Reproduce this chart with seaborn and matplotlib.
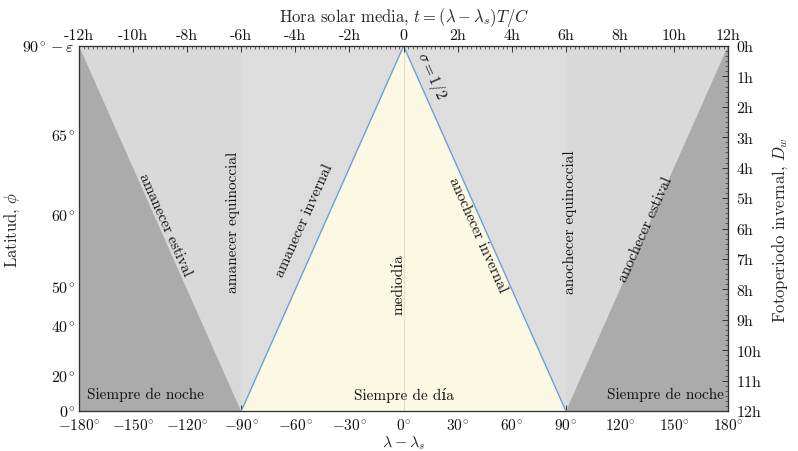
import numpy as np
import pandas as pd
import matplotlib
matplotlib.use('Agg')
import matplotlib.pyplot as plt
from matplotlib.ticker import MultipleLocator
import seaborn as sns

# region outlines (x = lambda - lambda_s in degrees, y = winter photoperiod in hours)
day_x = [-90, 0, 90]
day_y = [12, 0, 12]
night_left_x = [-180, -180, -90]
night_right_x = [180, 180, 90]
night_y = [0, 12, 12]

# bottom / top axis
lon_ticks = [-180, -150, -120, -90, -60, -30, 0, 30, 60, 90, 120, 150, 180]
lon_labels = [r'$-180^{\!\circ}$', r'$-150^{\!\circ}$', r'$-120^{\!\circ}$', r'$-90^{\!\circ}$',
              r'$-60^{\!\circ}$', r'$-30^{\!\circ}$', r'$0^{\!\circ}$', r'$30^{\!\circ}$',
              r'$60^{\!\circ}$', r'$90^{\!\circ}$', r'$120^{\!\circ}$', r'$150^{\!\circ}$',
              r'$180^{\!\circ}$']
hour_labels = ['-12h', '-10h', '-8h', '-6h', '-4h', '-2h', '0', '2h', '4h', '6h', '8h', '10h', '12h']

# left axis: latitude ticks placed at their photoperiod (hours)
lat_pos = [0, 2.9, 5.55, 7.9, 9.2, 10.85, 12]
lat_labels = [r'$90^{\!\circ} - \varepsilon$', r'$65^{\!\circ}$', r'$60^{\!\circ}$', r'$50^{\!\circ}$',
              r'$40^{\!\circ}$', r'$20^{\!\circ}$', r'$0^{\!\circ}$']

# right axis
dw_ticks = list(range(0, 13))
dw_labels = [f'{h}h' for h in dw_ticks]

sns.set_theme(style='white')
plt.rcParams['font.family'] = ['cmr10', 'DejaVu Serif']
plt.rcParams['mathtext.fontset'] = 'cm'
plt.rcParams['axes.unicode_minus'] = False
plt.rcParams['text.color'] = '#111111'

fig = plt.figure(figsize=(7.98, 4.52), dpi=100)
ax = fig.add_axes([0.099, 0.0885, 0.8135, 0.8075])

c_light = '#d9d9d9'
c_light2 = '#dddddd'
c_dark = '#ababab'
c_day = '#fbf8e4'
c_line = '#6f9fd6'
tcol = '#111111'

ax.fill_between([-180, 180], 0, 12, color=c_light, lw=0, zorder=0)
ax.fill_between([-90, 90], 0, 12, color=c_light2, lw=0, zorder=0)
ax.fill(day_x, day_y, color=c_day, lw=0, zorder=1)
ax.fill(night_left_x, night_y, color=c_dark, lw=0, zorder=1)
ax.fill(night_right_x, night_y, color=c_dark, lw=0, zorder=1)
ax.plot([0, 0], [0, 12], color='#e2dfcc', lw=0.8, zorder=2)

edge = pd.DataFrame({'x': day_x, 'y': day_y})
sns.lineplot(data=edge, x='x', y='y', sort=False, color=c_line, lw=1.0, ax=ax, zorder=3)

ax.set_xlim(-180, 180)
ax.set_ylim(12, 0)
ax.set_xticks(lon_ticks)
ax.set_xticklabels(lon_labels, fontsize=11)
ax.xaxis.set_minor_locator(MultipleLocator(2.5))
ax.set_yticks(lat_pos)
ax.set_yticklabels(lat_labels, fontsize=11.5)
ax.set_xlabel(r'$\lambda - \lambda_s$', fontsize=11.5)
ax.xaxis.set_label_coords(0.5, -0.062)
ax.set_ylabel(r'Latitud, $\phi$', fontsize=12)
ax.yaxis.set_label_coords(-0.088, 0.5)
ax.tick_params(axis='both', which='major', direction='in', length=4, width=0.7, pad=3,
               colors='#333333', labelcolor=tcol)
ax.tick_params(axis='x', which='minor', direction='in', length=2, width=0.5, colors='#333333')
ax.tick_params(axis='x', which='major', pad=4.5)

axt = ax.twiny()
axt.set_xlim(-180, 180)
axt.set_xticks(lon_ticks)
axt.set_xticklabels(hour_labels, fontsize=11.5)
axt.xaxis.set_minor_locator(MultipleLocator(2.5))
axt.tick_params(axis='x', which='major', direction='in', length=4, width=0.7, pad=3,
                colors='#333333', labelcolor=tcol)
axt.tick_params(axis='x', which='minor', direction='in', length=2, width=0.5, colors='#333333')
axt.set_xlabel(r'Hora solar media, $t = (\lambda - \lambda_s)T/C$', fontsize=12, labelpad=5)

axr = ax.twinx()
axr.set_ylim(12, 0)
axr.set_yticks(dw_ticks)
axr.set_yticklabels(dw_labels, fontsize=11.5)
axr.yaxis.set_minor_locator(MultipleLocator(1 / 6))
axr.tick_params(axis='y', which='major', direction='in', length=4, width=0.7, pad=6,
                colors='#333333', labelcolor=tcol)
axr.tick_params(axis='y', which='minor', direction='in', length=2, width=0.5, colors='#333333')
axr.set_ylabel(r'Fotoperiodo invernal, $D_w$', fontsize=12, labelpad=6)

for a in (ax, axt, axr):
    for s in a.spines.values():
        s.set_color('#333333')
        s.set_linewidth(0.8)

fs = 11
ax.text(-132, 5.85, 'amanecer estival', rotation=-66, ha='center', va='center', fontsize=fs, zorder=5)
ax.text(-94.5, 5.75, 'amanecer equinoccial', rotation=90, ha='center', va='center', fontsize=fs, zorder=5)
ax.text(-55, 5.7, 'amanecer invernal', rotation=66, ha='center', va='center', fontsize=fs, zorder=5)
ax.text(-2.5, 7.8, 'mediodía', rotation=90, ha='center', va='center', fontsize=fs, zorder=5)
ax.text(41, 6.2, 'anochecer invernal', rotation=-66, ha='center', va='center', fontsize=fs, zorder=5)
ax.text(92.5, 5.75, 'anochecer equinoccial', rotation=90, ha='center', va='center', fontsize=fs, zorder=5)
ax.text(134, 6.0, 'anochecer estival', rotation=66, ha='center', va='center', fontsize=fs, zorder=5)
ax.text(15.5, 0.95, r'$\sigma = 1/2$', rotation=-66, ha='center', va='center', fontsize=fs, zorder=5)
ax.text(-143, 11.45, 'Siempre de noche', ha='center', va='center', fontsize=fs, zorder=5)
ax.text(0, 11.45, 'Siempre de día', ha='center', va='center', fontsize=fs, zorder=5)
ax.text(145, 11.45, 'Siempre de noche', ha='center', va='center', fontsize=fs, zorder=5)

fig.savefig('out.png', dpi=100)
